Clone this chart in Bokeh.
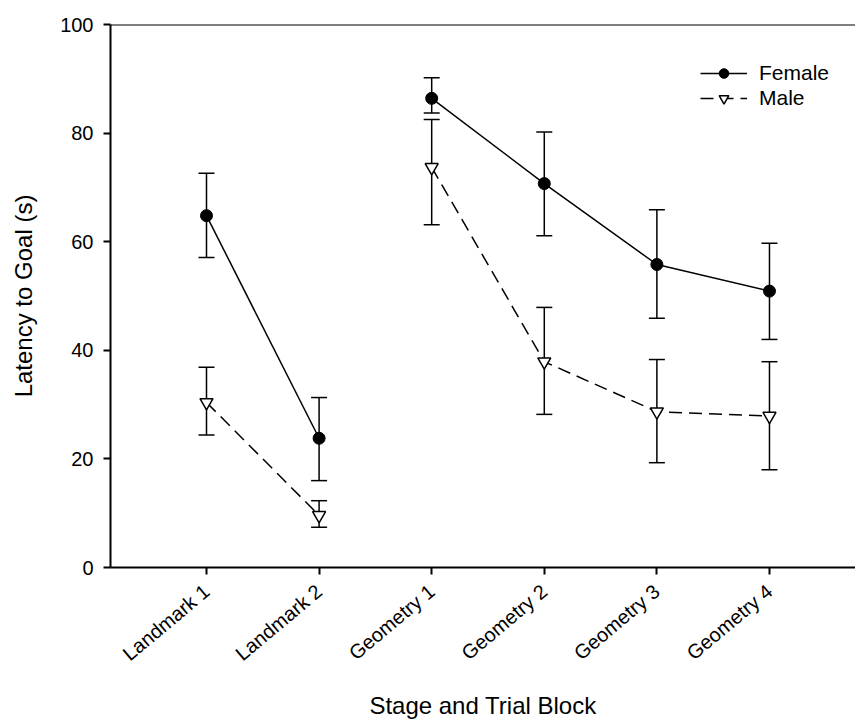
import math
from bokeh.plotting import figure
from bokeh.models import ColumnDataSource, Whisker, TeeHead, Span, FixedTicker, Legend, LegendItem, Range1d
from bokeh.embed import file_html
from bokeh.resources import INLINE

blocks = ["Landmark 1", "Landmark 2", "Geometry 1", "Geometry 2", "Geometry 3", "Geometry 4"]
block_pos = [1, 2, 3, 4, 5, 6]
female_mean = [64.8, 23.8, 86.4, 70.7, 55.8, 50.9]
female_lower = [57.1, 16.0, 83.7, 61.1, 45.9, 42.0]
female_upper = [72.6, 31.3, 90.2, 80.2, 65.9, 59.7]
male_mean = [30.4, 9.6, 73.7, 37.9, 28.7, 27.9]
male_lower = [24.4, 7.4, 63.1, 28.2, 19.3, 18.0]
male_upper = [36.9, 12.3, 82.5, 47.9, 38.3, 37.9]
y_ticks = [0, 20, 40, 60, 80, 100]

FONT = "Liberation Sans"

p = figure(width=855, height=724, output_backend="svg", toolbar_location=None,
           x_range=Range1d(0.1474, 6.764), y_range=Range1d(0, 100),
           min_border_left=110, min_border_right=0, min_border_top=24, min_border_bottom=157)
p.outline_line_color = None
p.xgrid.visible = False
p.ygrid.visible = False
p.background_fill_color = "white"
p.border_fill_color = "white"

# axes
p.xaxis.ticker = FixedTicker(ticks=block_pos)
p.xaxis.major_label_overrides = {pos: lab for pos, lab in zip(block_pos, blocks)}
p.xaxis.major_label_orientation = math.radians(40)
p.yaxis.ticker = FixedTicker(ticks=y_ticks)
for ax in (p.xaxis[0], p.yaxis[0]):
    ax.axis_line_width = 2
    ax.axis_line_color = "black"
    ax.major_tick_line_width = 2
    ax.major_tick_line_color = "black"
    ax.major_tick_out = 7
    ax.major_tick_in = 0
    ax.minor_tick_line_color = None
    ax.major_label_text_font = FONT
    ax.major_label_text_font_size = "20px"
    ax.major_label_text_color = "black"
    ax.axis_label_text_font = FONT
    ax.axis_label_text_font_size = "24px"
    ax.axis_label_text_font_style = "normal"
    ax.axis_label_text_color = "black"
p.xaxis.axis_label = "Stage and Trial Block"
p.yaxis.axis_label = "Latency to Goal (s)"
p.yaxis.major_label_standoff = 10
p.xaxis.major_label_standoff = 14
p.yaxis.axis_label_standoff = 20
p.xaxis.axis_label_standoff = 16

p.add_layout(Span(location=100, dimension="width", line_color="black", line_width=2))

fsrc = ColumnDataSource(dict(x=block_pos, m=female_mean, lo=female_lower, hi=female_upper))
msrc = ColumnDataSource(dict(x=block_pos, m=male_mean, lo=male_lower, hi=male_upper))

DASH = "13 7"

# error bars
for src in (msrc, fsrc):
    w = Whisker(source=src, base="x", lower="lo", upper="hi", dimension="height",
                line_color="black", line_width=1.5,
                lower_head=TeeHead(size=16, line_color="black", line_width=1.5),
                upper_head=TeeHead(size=16, line_color="black", line_width=1.5))
    p.add_layout(w)

# lines (two separate stages)
fl1 = p.line(block_pos[:2], female_mean[:2], line_color="black", line_width=1.5)
fl2 = p.line(block_pos[2:], female_mean[2:], line_color="black", line_width=1.5)
ml1 = p.line(block_pos[:2], male_mean[:2], line_color="black", line_width=1.5, line_dash=DASH)
ml2 = p.line(block_pos[2:], male_mean[2:], line_color="black", line_width=1.5, line_dash=DASH)

fs = p.scatter("x", "m", source=fsrc, marker="circle", size=12, fill_color="black", line_color="black")
ms = p.scatter("x", "m", source=msrc, marker="inverted_triangle", size=13, fill_color="white",
               line_color="black", line_width=1.5)

legend = Legend(items=[LegendItem(label="Female", renderers=[fl1, fs]),
                       LegendItem(label="Male", renderers=[ml1, ms])],
                location=(590, 457), orientation="vertical",
                glyph_width=47, glyph_height=24, label_height=24, spacing=1,
                label_standoff=12, padding=0, margin=0,
                border_line_color=None, background_fill_alpha=0,
                label_text_font=FONT, label_text_font_size="21px", label_text_color="black")
p.add_layout(legend)

open("out.html", "w").write(file_html(p, INLINE))
